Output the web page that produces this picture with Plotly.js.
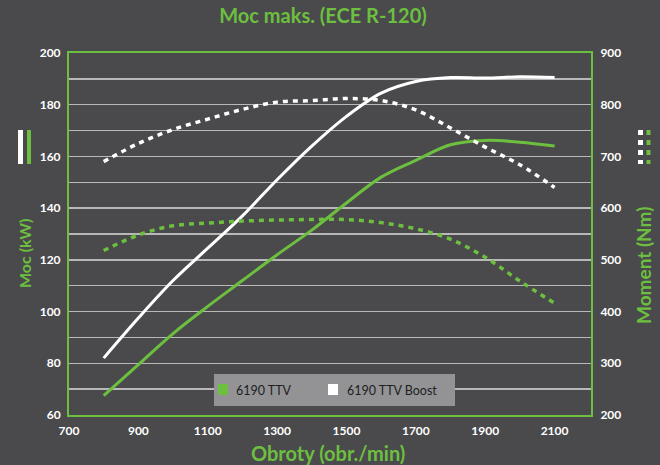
<!DOCTYPE html>
<html>
<head>
<meta charset="utf-8">
<script src="https://cdn.plot.ly/plotly-3.0.1.min.js"></script>
<style>html,body{margin:0;padding:0;background:#4a4a4c;}#chart{width:660px;height:465px;}</style>
</head>
<body>
<div id="chart"></div>
<script>
// Data
const rpm = [800, 900, 1000, 1100, 1200, 1300, 1400, 1500, 1600, 1700, 1800, 1900, 2000, 2100];
const powerTTV = [67.5, 79.5, 91.5, 102, 112, 122, 131.5, 142, 152, 158.5, 164.5, 166.2, 165.5, 164];
const powerBoost = [82, 97.5, 112, 124.5, 137, 151, 164, 175.5, 184.5, 189, 190.5, 190.3, 190.8, 190.5];
const torqueTTV = [518, 548, 566, 571, 575, 577, 578, 578, 572, 560, 540, 505, 459, 416];
const torqueBoost = [690, 725, 752, 772, 791, 805, 808, 812, 808, 790, 755, 718, 684, 640];
const legendNames = ["6190 TTV", "6190 TTV Boost"];
const xTicks = [700, 900, 1100, 1300, 1500, 1700, 1900, 2100];

const GREEN = "#6cbf3f";
const WHITE = "#ffffff";
const FONT = "Lato, 'Open Sans', sans-serif";

const traces = [
  {x: rpm, y: torqueBoost, yaxis: "y2", mode: "lines", line: {color: WHITE, width: 3.5, dash: "5px,5px", shape: "spline"}, showlegend: false, hoverinfo: "skip"},
  {x: rpm, y: torqueTTV, yaxis: "y2", mode: "lines", line: {color: GREEN, width: 3.5, dash: "5px,5px", shape: "spline"}, showlegend: false, hoverinfo: "skip"},
  {x: rpm, y: powerBoost, mode: "lines", line: {color: WHITE, width: 3, shape: "spline"}, showlegend: false, hoverinfo: "skip"},
  {x: rpm, y: powerTTV, mode: "lines", line: {color: GREEN, width: 3, shape: "spline"}, showlegend: false, hoverinfo: "skip"}
];

const L = 69, R = 591, T = 53, B = 415;
const W = R - L, H = B - T;
const px = v => (v - L) / W;
const py = v => (B - v) / H;

const annotations = [
  {text: "<b>Moc (kW)</b>", xref: "paper", yref: "paper", x: px(24), y: py(254), textangle: -90, showarrow: false,
   font: {family: FONT, size: 16, color: GREEN}, xanchor: "center", yanchor: "middle"},
  {text: "<b>Moment (Nm)</b>", xref: "paper", yref: "paper", x: px(643), y: py(266), textangle: -90, showarrow: false,
   font: {family: FONT, size: 19, color: GREEN}, xanchor: "center", yanchor: "middle"},
  {text: "<b>Obroty (obr./min)</b>", xref: "paper", yref: "paper", x: px(328), y: py(453), showarrow: false,
   font: {family: FONT, size: 20, color: GREEN}, xanchor: "center", yanchor: "middle"},
  // legend labels
  {text: legendNames[0], xref: "paper", yref: "paper", x: px(234), y: py(390), showarrow: false, xanchor: "left", yanchor: "middle",
   font: {family: FONT, size: 12.5, color: "#1e1e1e"}},
  {text: legendNames[1], xref: "paper", yref: "paper", x: px(345), y: py(390), showarrow: false, xanchor: "left", yanchor: "middle",
   font: {family: FONT, size: 12.5, color: "#1e1e1e"}}
];

const shapes = [
  {type: "line", xref: "paper", yref: "paper", x0: px(20.5), x1: px(20.5), y0: py(130), y1: py(164), line: {color: WHITE, width: 5}},
  {type: "line", xref: "paper", yref: "paper", x0: px(29), x1: px(29), y0: py(130), y1: py(164), line: {color: GREEN, width: 4}},
  {type: "line", xref: "paper", yref: "paper", x0: px(640.5), x1: px(640.5), y0: py(130), y1: py(164), line: {color: WHITE, width: 5, dash: "5px,5px"}},
  {type: "line", xref: "paper", yref: "paper", x0: px(648.5), x1: px(648.5), y0: py(130), y1: py(164), line: {color: GREEN, width: 4, dash: "5px,5px"}},
  // legend box and swatches
  {type: "rect", xref: "paper", yref: "paper", layer: "above", x0: px(214), x1: px(455), y0: py(406), y1: py(374), fillcolor: "#939396", line: {width: 0}},
  {type: "rect", xref: "paper", yref: "paper", layer: "above", x0: px(218), x1: px(228), y0: py(395), y1: py(384), fillcolor: GREEN, line: {width: 0}},
  {type: "rect", xref: "paper", yref: "paper", layer: "above", x0: px(328), x1: px(338), y0: py(395), y1: py(384), fillcolor: WHITE, line: {width: 0}}
];

const layout = {
  width: 660, height: 465,
  paper_bgcolor: "#4a4a4c", plot_bgcolor: "#4a4a4c",
  margin: {l: L, r: 660 - R, t: T, b: 465 - B, pad: 0},
  font: {family: FONT, color: WHITE},
  title: {text: "<b>Moc maks. (ECE R-120)</b>", font: {family: FONT, size: 20, color: GREEN}, x: px(323), xref: "paper", xanchor: "center", y: 1 - 16/465, yanchor: "middle"},
  xaxis: {range: [700, 2205], tickvals: xTicks, ticktext: xTicks.map(String), showgrid: false, zeroline: false,
          showline: true, linecolor: GREEN, linewidth: 2, mirror: true, ticks: "outside", ticklen: 4, tickcolor: "rgba(0,0,0,0)",
          tickfont: {family: FONT, size: 12, color: WHITE, weight: "bold"}},
  yaxis: {range: [60, 200], dtick: 20, tick0: 60, showgrid: true, gridcolor: "#b8b8b8", gridwidth: 1.3, zeroline: false,
          showline: true, linecolor: GREEN, linewidth: 2, mirror: true, ticks: "outside", ticklen: 4, tickcolor: "rgba(0,0,0,0)",
          minor: {dtick: 10, tick0: 60, showgrid: true, gridcolor: "#b8b8b8", gridwidth: 1.3},
          tickfont: {family: FONT, size: 12, color: WHITE, weight: "bold"}},
  yaxis2: {range: [200, 900], dtick: 100, overlaying: "y", side: "right", showgrid: false, zeroline: false,
          showline: true, linecolor: GREEN, linewidth: 2, ticks: "outside", ticklen: 5, tickcolor: "rgba(0,0,0,0)",
          tickfont: {family: FONT, size: 12, color: WHITE, weight: "bold"}},
  showlegend: false,
  annotations: annotations,
  shapes: shapes
};

Plotly.newPlot("chart", traces, layout, {displayModeBar: false, staticPlot: true});
</script>
</body>
</html>
